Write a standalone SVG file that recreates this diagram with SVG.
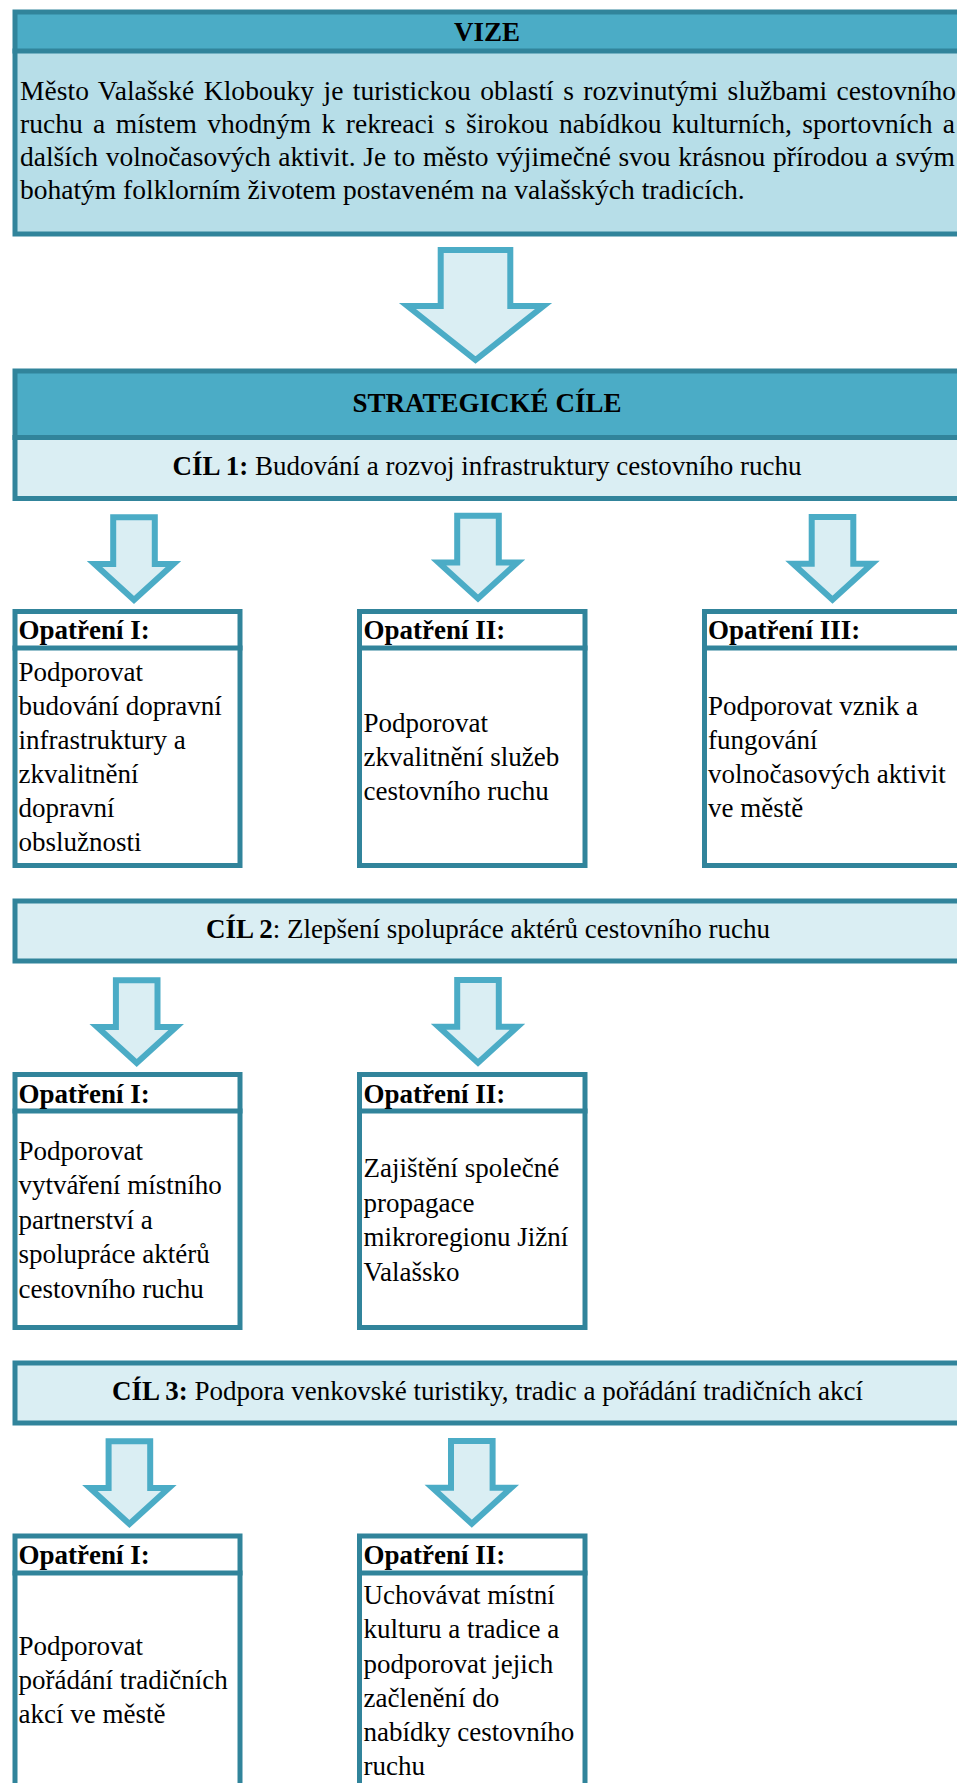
<svg xmlns="http://www.w3.org/2000/svg" width="957" height="1783" viewBox="0 0 957 1783">
<style>
text{font-family:"Liberation Serif","Times New Roman",serif;fill:#000;font-size:27px}
.v{font-size:27.5px}
.b{font-weight:bold}
.frame{stroke:#31849B;stroke-width:5}
.div{stroke:#31849B;stroke-width:5}
.hdr{fill:#4BACC6}
.lt{fill:#DAEEF3}
.vb{fill:#B7DEE8}
.wh{fill:#FFFFFF}
.arrow{fill:#DAEEF3;stroke:#4BACC6;stroke-width:6;stroke-linejoin:miter;stroke-miterlimit:10}
</style>
<defs>
<path id="sa" d="M-20.8,3H20.8V49.7H39.5L0,85.7L-39.5,49.7H-20.8Z"/>
</defs>
<rect width="957" height="1783" fill="#FFFFFF"/>

<g id="vize">
<rect x="15" y="12" width="955" height="222" class="vb"/>
<rect x="15" y="12" width="955" height="39" class="hdr"/>
<rect x="15" y="12" width="955" height="222" fill="none" class="frame"/>
<line x1="12.5" y1="51" x2="962" y2="51" class="div"/>
<text x="487" y="41" text-anchor="middle" class="b">VIZE</text>
<text x="20" y="100" class="v" textLength="936" lengthAdjust="spacing" word-spacing="2.5">Město Valašské Klobouky je turistickou oblastí s rozvinutými službami cestovního</text>
<text x="20" y="133" class="v" textLength="935" lengthAdjust="spacing" word-spacing="3.5">ruchu a místem vhodným k rekreaci s širokou nabídkou kulturních, sportovních a</text>
<text x="20" y="166" class="v" textLength="935" lengthAdjust="spacing" word-spacing="0.8">dalších volnočasových aktivit. Je to město výjimečné svou krásnou přírodou a svým</text>
<text x="20" y="199" class="v">bohatým folklorním životem postaveném na valašských tradicích.</text>
</g>

<g id="strategicke-cile">
<rect x="15" y="371" width="955" height="127.5" class="lt"/>
<rect x="15" y="371" width="955" height="66.5" class="hdr"/>
<rect x="15" y="371" width="955" height="127.5" fill="none" class="frame"/>
<line x1="12.5" y1="437.5" x2="962" y2="437.5" class="div"/>
<text x="487" y="412" text-anchor="middle" class="b">STRATEGICKÉ CÍLE</text>
<g id="cil-1">
<text x="487" y="475" text-anchor="middle"><tspan class="b">CÍL 1:</tspan> Budování a rozvoj infrastruktury cestovního ruchu</text>
</g>
</g>

<g id="c1-opatreni-1">
<rect x="15" y="611.5" width="225" height="254" class="wh frame"/>
<line x1="12.5" y1="648" x2="242.5" y2="648" class="div"/>
<text x="18.5" y="639" class="b">Opatření I:</text>
<text x="18.5" y="681">Podporovat</text>
<text x="18.5" y="715">budování dopravní</text>
<text x="18.5" y="749">infrastruktury a</text>
<text x="18.5" y="783">zkvalitnění</text>
<text x="18.5" y="817">dopravní</text>
<text x="18.5" y="851">obslužnosti</text>
</g>

<g id="c1-opatreni-2">
<rect x="359.5" y="611.5" width="225.5" height="254" class="wh frame"/>
<line x1="357" y1="648" x2="587.5" y2="648" class="div"/>
<text x="363.5" y="639" class="b">Opatření II:</text>
<text x="363.5" y="732">Podporovat</text>
<text x="363.5" y="766">zkvalitnění služeb</text>
<text x="363.5" y="800">cestovního ruchu</text>
</g>

<g id="c1-opatreni-3">
<rect x="704.5" y="611.5" width="265" height="254" class="wh frame"/>
<line x1="702" y1="648" x2="962" y2="648" class="div"/>
<text x="708" y="639" class="b">Opatření III:</text>
<text x="708" y="715">Podporovat vznik a</text>
<text x="708" y="749">fungování</text>
<text x="708" y="783">volnočasových aktivit</text>
<text x="708" y="817">ve městě</text>
</g>

<g id="cil-2">
<rect x="15" y="901" width="955" height="60" class="lt frame"/>
<text x="488" y="938" text-anchor="middle"><tspan class="b">CÍL 2</tspan>: Zlepšení spolupráce aktérů cestovního ruchu</text>
</g>

<g id="c2-opatreni-1">
<rect x="15" y="1074.5" width="225" height="253" class="wh frame"/>
<line x1="12.5" y1="1111" x2="242.5" y2="1111" class="div"/>
<text x="18.5" y="1102.5" class="b">Opatření I:</text>
<text x="18.5" y="1159.5">Podporovat</text>
<text x="18.5" y="1194">vytváření místního</text>
<text x="18.5" y="1228.5">partnerství a</text>
<text x="18.5" y="1263">spolupráce aktérů</text>
<text x="18.5" y="1297.5">cestovního ruchu</text>
</g>

<g id="c2-opatreni-2">
<rect x="359.5" y="1074.5" width="225.5" height="253" class="wh frame"/>
<line x1="357" y1="1111" x2="587.5" y2="1111" class="div"/>
<text x="363.5" y="1102.5" class="b">Opatření II:</text>
<text x="363.5" y="1177">Zajištění společné</text>
<text x="363.5" y="1211.5">propagace</text>
<text x="363.5" y="1246">mikroregionu Jižní</text>
<text x="363.5" y="1280.5">Valašsko</text>
</g>

<g id="cil-3">
<rect x="15" y="1363" width="955" height="60" class="lt frame"/>
<text x="487.5" y="1400" text-anchor="middle"><tspan class="b">CÍL 3:</tspan> Podpora venkovské turistiky, tradic a pořádání tradičních akcí</text>
</g>

<g id="c3-opatreni-1">
<rect x="15" y="1536" width="225" height="260" class="wh frame"/>
<line x1="12.5" y1="1573" x2="242.5" y2="1573" class="div"/>
<text x="18.5" y="1563.5" class="b">Opatření I:</text>
<text x="18.5" y="1655">Podporovat</text>
<text x="18.5" y="1689">pořádání tradičních</text>
<text x="18.5" y="1723">akcí ve městě</text>
</g>

<g id="c3-opatreni-2">
<rect x="359.5" y="1536" width="225.5" height="260" class="wh frame"/>
<line x1="357" y1="1573" x2="587.5" y2="1573" class="div"/>
<text x="363.5" y="1563.5" class="b">Opatření II:</text>
<text x="363.5" y="1604">Uchovávat místní</text>
<text x="363.5" y="1638">kulturu a tradice a</text>
<text x="363.5" y="1672.5">podporovat jejich</text>
<text x="363.5" y="1707">začlenění do</text>
<text x="363.5" y="1741">nabídky cestovního</text>
<text x="363.5" y="1775">ruchu</text>
</g>

<g id="connectors">
<path class="arrow" stroke-width="6.5" d="M440.7,250H510.3V306H543.5L475.5,360L407.5,306H440.7Z"/>
<use href="#sa" class="arrow" x="134" y="514.3"/>
<use href="#sa" class="arrow" x="478" y="512.7"/>
<use href="#sa" class="arrow" x="832.5" y="514"/>
<use href="#sa" class="arrow" x="136.7" y="977.3"/>
<use href="#sa" class="arrow" x="478" y="977"/>
<use href="#sa" class="arrow" x="129.4" y="1438.3"/>
<use href="#sa" class="arrow" x="471.8" y="1438"/>
</g>
</svg>
